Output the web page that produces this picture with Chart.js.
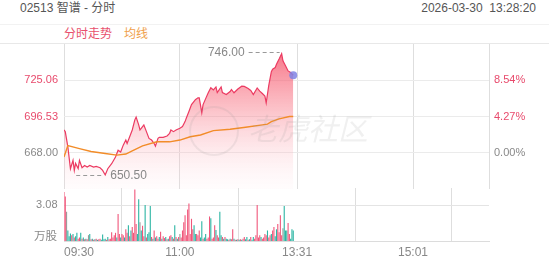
<!DOCTYPE html>
<html>
<head>
<meta charset="utf-8">
<script src="https://cdn.jsdelivr.net/npm/chart.js@4/dist/chart.umd.min.js"></script>
<style>
  body { margin: 0; background: #fff; }
  #wrap { position: relative; width: 552px; height: 265px; overflow: hidden; background: #fff;
          font-family: "Liberation Sans", Arial, "Noto Sans CJK SC", sans-serif; }
  .abs { position: absolute; }
  #title { left: 20px; top: 1px; font-size: 12px; line-height: 15px; color: #555; }
  #stamp { right: 16px; top: 1px; font-size: 12px; line-height: 15px; color: #555; }
  .sep { left: 0; width: 549px; height: 1px; }
  #legend { left: 64px; top: 26px; font-size: 12px; line-height: 16px; }
  #legend span { margin-right: 12px; }
  #unit { left: 0; width: 57px; text-align: right; top: 228px; font-size: 11.5px; line-height: 16px; color: #888; }
  #wm { left: 248px; top: 112px; font-size: 30px; line-height: 36px; font-style: italic; color: rgba(150,150,150,0.14); pointer-events: none; }
  #wmc { left: 189px; top: 106px; width: 46px; height: 46px; border-radius: 50%; border: 2px solid rgba(150,150,150,0.14); pointer-events: none; }
</style>
</head>
<body>
<div id="wrap">
  <div id="title" class="abs">02513 智谱 - 分时</div>
  <div id="stamp" class="abs">2026-03-30&nbsp;&nbsp;13:28:20</div>
  <div class="abs sep" style="top:24px;background:#f2f2f2"></div>
  <div id="legend" class="abs"><span style="color:#e8506d">分时走势</span><span style="color:#f0a04a">均线</span></div>
  <div class="abs sep" style="top:43px;background:#e8e8e8"></div>
  <canvas id="priceChart" class="abs" style="left:0;top:40px" width="552" height="153"></canvas>
  <canvas id="volChart" class="abs" style="left:0;top:188px" width="552" height="72"></canvas>
  <div id="unit" class="abs">万股</div>
  <div id="wmc" class="abs"></div>
  <div id="wm" class="abs">老虎社区</div>
</div>
<script>
// trading minutes since 09:30 (morning 150 min + afternoon 180 min)
const timeTicks = [0, 90, 181, 271, 330];
const timeLabels = ['09:30', '11:00', '13:31', '15:01', ''];

const basePrice = 668.00;
const priceMin = 639.47;
const priceMax = 753.59;
const priceTicks = [668.00, 696.53, 725.06];
const volMax = 4.535;
const volTicks = [3.08];

// price line (minute, price)
const priceTimes = [0, 1, 3, 5, 7, 8, 9, 11, 12, 14, 16, 18, 20, 23, 25, 28, 30, 32, 34, 37,
  40, 42, 44, 46, 48, 49, 51, 53, 55, 56, 58, 59, 61, 62, 64, 66, 68, 70, 71, 73,
  74, 77, 80, 82, 83, 85, 87, 90, 92, 94, 95, 97, 99, 101, 102, 104, 105, 107, 108, 110,
  112, 114, 116, 118, 119, 122, 123, 126, 129, 130, 132, 135, 138, 140, 143, 145, 147, 150, 152, 154,
  156, 157, 159, 161, 162, 164, 165, 167, 169, 170, 172, 174, 176, 178];
const prices = [686.0, 684.5, 672.6, 655.4, 662.0, 654.1, 659.6, 655.6, 662.0, 656.2, 658.0, 656.7, 658.0, 656.7, 657.2, 656.2, 654.1, 650.5, 655.4, 659.4,
  664.7, 670.0, 668.6, 674.0, 678.0, 675.3, 680.6, 685.9, 693.9, 696.1, 689.9, 685.9, 688.6, 689.9, 684.6, 679.3, 678.0, 675.3, 673.2, 679.3,
  680.1, 680.1, 681.2, 683.3, 685.9, 684.6, 685.9, 687.3, 688.6, 692.5, 695.3, 700.5, 705.9, 708.5, 709.8, 711.2, 711.2, 699.5, 705.9, 710.6,
  715.2, 719.2, 717.4, 719.8, 715.4, 719.8, 715.4, 713.8, 716.2, 717.8, 715.2, 718.2, 720.4, 720.2, 718.6, 717.0, 713.8, 719.0, 716.5, 714.6,
  712.6, 707.2, 721.0, 731.8, 733.8, 735.1, 737.7, 741.7, 746.0, 740.4, 736.4, 732.4, 731.1, 729.0];

// average price line (minute, price)
const avgTimes = [0, 3, 12, 21, 32, 41, 48, 53, 61, 72, 82, 90, 98, 106, 116, 129, 141, 154, 158, 161, 167, 175, 178];
const avgPrices = [664.7, 673.6, 671.3, 669.0, 667.4, 666.1, 667.0, 669.4, 673.4, 676.6, 676.6, 678.0, 680.6, 682.0, 685.4, 686.5, 688.1, 689.9, 690.5, 692.5, 694.7, 696.5, 696.5];

// volume per minute (万股), and direction: 1 up, -1 down, 0 flat
const volumes = [
  4.2, 3.8, 2.5, 0.9, 0.4, 0.64, 0.5, 0.6, 0.3, 0.4,
  0.7, 0.2, 0.3, 0.7, 0.2, 0.3, 0.15, 0.2, 0.15, 0.5,
  0.6, 0.15, 0.2, 0.1, 0.15, 0.2, 0.1, 0.15, 0.2, 0.1,
  0.55, 0.15, 0.2, 0.1, 0.35, 0.15, 0.2, 0.75, 0.3, 0.5,
  0.7, 0.3, 2.3, 0.6, 0.3, 0.6, 0.5, 0.3, 1.0, 0.7,
  1.35, 0.4, 0.9, 1.2, 0.7, 4.4, 1.45, 0.6, 3.57, 1.6,
  0.9, 1.3, 0.4, 3.08, 0.3, 0.6, 0.75, 3.0, 0.35, 0.2,
  0.9, 0.3, 0.4, 0.2, 0.35, 0.8, 0.2, 0.4, 0.25, 0.35,
  0.15, 0.2, 0.4, 0.5, 0.35, 0.2, 1.35, 0.35, 0.2, 0.35,
  0.6, 0.3, 0.9, 1.6, 2.2, 0.5, 2.7, 3.2, 0.6, 1.9,
  1.0, 1.35, 0.6, 0.6, 0.5, 0.9, 0.3, 1.7, 0.2, 0.3,
  0.6, 0.2, 0.3, 2.1, 1.95, 0.2, 0.3, 1.35, 0.95, 0.5,
  0.3, 2.5, 0.5, 0.35, 0.2, 0.35, 0.2, 0.15, 0.1, 0.2,
  0.15, 1.0, 0.2, 0.1, 0.1, 0.15, 0.1, 0.15, 0.1, 0.2,
  0.35, 0.15, 0.35, 0.1, 0.15, 0.35, 0.1, 0.35, 0.2, 0.5,
  3.08, 0.3, 0.5, 0.35, 0.2, 0.3, 0.6, 0.5, 0.9, 0.3,
  0.5, 0.6, 0.9, 1.2, 0.4, 1.0, 1.45, 0.75, 2.2, 0.5,
  1.1, 3.0, 0.9, 0.9, 1.55, 0.6, 0.2, 1.0, 0.9];
const volDirs = [
  1, 1, 0, -1, -1, -1, 1, -1, 1, -1,
  -1, 1, 1, -1, 1, -1, 1, -1, 1, 0,
  -1, 1, -1, 1, -1, 1, -1, 1, 1, -1,
  -1, -1, -1, 1, -1, 1, 1, 1, 1, 1,
  1, -1, 1, 1, -1, 1, 1, -1, 1, 1,
  -1, 1, -1, 1, 1, 1, 1, -1, -1, 0,
  -1, 1, 1, -1, 1, -1, -1, -1, 1, -1,
  1, -1, 1, 1, -1, 1, -1, 1, 1, -1,
  1, -1, 1, 1, -1, 1, -1, 1, -1, 1,
  0, 1, 1, 1, 1, 1, 1, 1, 1, 1,
  1, -1, -1, 1, 1, 1, -1, -1, 1, -1,
  -1, 1, 1, 1, -1, 1, 1, 1, -1, 1,
  1, -1, -1, 1, -1, 1, -1, -1, 1, -1,
  1, 1, -1, 1, -1, 1, -1, 1, -1, 1,
  1, -1, -1, 1, -1, 1, -1, -1, 1, 1,
  1, 1, 1, -1, 1, 1, 1, 1, -1, 1,
  1, -1, 1, 1, -1, -1, 1, 1, 1, 1,
  0, -1, -1, -1, 1, 1, -1, -1, -1];

const RED = '#e84a6c';
const GRAY_TXT = '#888';

Chart.defaults.font.family = '"Liberation Sans", Arial, "Noto Sans CJK SC", sans-serif';
Chart.defaults.font.size = 11;
Chart.defaults.color = GRAY_TXT;

const setTimeTicks = s => { s.ticks = timeTicks.map(v => ({ value: v })); };
// fixed axis width, no label overflow padding
const fixWidth = w => s => { s.width = w; s.paddingTop = 0; s.paddingBottom = 0; };

// high / low marks with dashed leaders
const hiLoMarks = {
  id: 'hiLoMarks',
  afterDatasetsDraw(chart) {
    const { ctx, scales: { x, y } } = chart;
    const hi = Math.max(...prices), lo = Math.min(...prices);
    const hx = x.getPixelForValue(priceTimes[prices.indexOf(hi)]), hy = y.getPixelForValue(hi);
    const lx = x.getPixelForValue(priceTimes[prices.indexOf(lo)]), ly = y.getPixelForValue(lo);
    ctx.save();
    ctx.strokeStyle = '#999';
    ctx.fillStyle = GRAY_TXT;
    ctx.lineWidth = 1;
    ctx.setLineDash([4, 3]);
    ctx.font = '12px "Liberation Sans", Arial, sans-serif';
    ctx.textBaseline = 'middle';
    ctx.beginPath();
    ctx.moveTo(hx - 33, Math.round(hy) - 1.5); ctx.lineTo(hx - 2, Math.round(hy) - 1.5);
    ctx.moveTo(lx - 29, Math.round(ly) + 0.5); ctx.lineTo(lx - 1, Math.round(ly) + 0.5);
    ctx.stroke();
    ctx.textAlign = 'right';
    ctx.fillText(hi.toFixed(2), hx - 37, hy - 1);
    ctx.textAlign = 'left';
    ctx.fillText(lo.toFixed(2), lx + 5, ly + 1);
    ctx.restore();
  }
};

new Chart(document.getElementById('priceChart'), {
  type: 'line',
  data: {
    datasets: [
      {
        label: '均线',
        data: avgTimes.map((t, i) => ({ x: t, y: avgPrices[i] })),
        borderColor: '#f28c28',
        borderWidth: 1.4,
        pointRadius: 0,
        tension: 0,
        fill: false
      },
      {
        label: '分时走势',
        data: priceTimes.map((t, i) => ({ x: t, y: prices[i] })),
        borderColor: '#ec3b62',
        borderWidth: 1.2,
        tension: 0,
        pointRadius: c => c.dataIndex === prices.length - 1 ? 4 : 0,
        pointBackgroundColor: 'rgba(128,132,228,0.85)',
        pointBorderWidth: 0,
        fill: 'start',
        backgroundColor: c => {
          const a = c.chart.chartArea;
          if (!a) return 'rgba(0,0,0,0)';
          const g = c.chart.ctx.createLinearGradient(0, a.top, 0, a.bottom);
          g.addColorStop(0, 'rgba(244,66,92,0.80)');
          g.addColorStop(0.45, 'rgba(248,120,135,0.45)');
          g.addColorStop(1, 'rgba(255,220,226,0.08)');
          return g;
        }
      }
    ]
  },
  options: {
    responsive: false,
    animation: false,
    events: [],
    layout: { padding: { top: 2, bottom: 1, left: 0, right: 0 } },
    plugins: { legend: { display: false }, tooltip: { enabled: false } },
    scales: {
      x: {
        type: 'linear', min: 0, max: 330,
        afterBuildTicks: setTimeTicks,
        afterFit: s => { s.height = 0; s.paddingLeft = 0; s.paddingRight = 0; },
        ticks: { display: false },
        grid: { color: '#dedede', drawTicks: false },
        border: { display: false }
      },
      y: {
        position: 'left', min: priceMin, max: priceMax,
        afterBuildTicks: s => { s.ticks = priceTicks.map(v => ({ value: v })); },
        afterFit: fixWidth(64),
        ticks: {
          padding: 6,
          color: c => c.tick.value > basePrice + 0.001 ? RED : GRAY_TXT,
          callback: v => v.toFixed(2)
        },
        grid: { color: '#ebebeb', drawTicks: false },
        border: { display: false }
      },
      y2: {
        position: 'right', min: priceMin, max: priceMax,
        afterBuildTicks: s => { s.ticks = priceTicks.map(v => ({ value: v })); },
        afterFit: fixWidth(63),
        ticks: {
          padding: 5,
          color: c => c.tick.value > basePrice + 0.001 ? RED : GRAY_TXT,
          callback: v => ((v - basePrice) / basePrice * 100).toFixed(2) + '%'
        },
        grid: { display: false, drawTicks: false },
        border: { display: false }
      }
    }
  },
  plugins: [hiLoMarks]
});

new Chart(document.getElementById('volChart'), {
  type: 'bar',
  data: {
    datasets: [{
      label: '成交量',
      data: volumes.map((v, i) => ({ x: i, y: v })),
      backgroundColor: volDirs.map(d => d > 0 ? '#f0567a' : d < 0 ? '#2bb5a3' : '#9a9a9a'),
      barPercentage: 0.85,
      categoryPercentage: 1,
      grouped: false
    }]
  },
  options: {
    responsive: false,
    animation: false,
    events: [],
    layout: { padding: { top: 0, right: 63, left: 0, bottom: 0 } },
    plugins: { legend: { display: false }, tooltip: { enabled: false } },
    scales: {
      x: {
        type: 'linear', min: 0, max: 330, offset: false,
        afterBuildTicks: setTimeTicks,
        afterFit: s => { s.height = 19; s.paddingLeft = 0; s.paddingRight = 0; },
        ticks: {
          autoSkip: false, maxRotation: 0, align: 'inner', padding: 4,
          font: { size: 12 },
          callback: (v, i) => timeLabels[i]
        },
        grid: { color: '#dedede', drawTicks: false },
        border: { display: true, color: '#dcdcdc' }
      },
      y: {
        min: 0, max: volMax,
        afterBuildTicks: s => { s.ticks = volTicks.map(v => ({ value: v })); },
        afterFit: fixWidth(64),
        ticks: { padding: 6.5, callback: v => v.toFixed(2) },
        grid: { color: '#e4e4e4', drawTicks: false },
        border: { display: false }
      }
    }
  }
});
</script>
</body>
</html>
